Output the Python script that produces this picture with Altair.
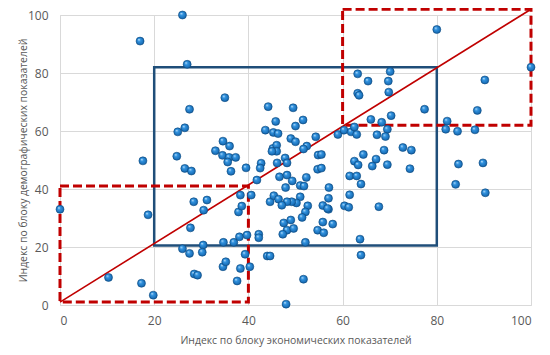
import altair as alt
import pandas as pd

# Data
econ_x = [26, 17, 27, 35, 27.5, 80, 100, 63.2, 70.1, 65.4, 69.7, 90.2, 63.2, 63.5, 69.8, 77.4, 88.6, 70.3, 66, 68.3,
          82.2, 81.9, 84.4, 88.1, 59, 60.3, 61.8, 62.5, 63, 69.5, 67.3, 69.1, 68.8, 72.8, 74.6, 64.4, 67.1, 62.5, 63.3, 66.3,
          69.5, 74.3, 84.6, 89.8, 84, 90.3, 61.5, 63, 63.9, 67.7, 61.5, 60.4, 61.3, 63.7, 63.9, 51.7, 48, 0, 18.7, 10.3,
          17.3, 19.8, 25, 26.5, 24.8, 17.6, 26.5, 27.9, 34.6, 36, 33, 34.5, 35.9, 37.3, 35.6, 36.3, 39.5, 42.7, 42.5, 44.2,
          45.8, 43.6, 45.3, 46.3, 49.5, 50, 51.6, 49, 50, 54.3, 45.2, 46, 46, 45, 52.4, 51.7, 47.8, 46.1, 48.2, 54.8,
          55.5, 54.7, 55.5, 46.6, 48.2, 41.8, 52.3, 47.9, 49.3, 51, 51.8, 57.1, 57, 57, 51, 50.2, 49.2, 52.6, 52.1, 51.4,
          55.8, 56.8, 55.8, 57.9, 54.7, 56, 52.1, 44.6, 45.4, 46.4, 48.2, 47.1, 47.5, 49, 48.2, 49.6, 47.3, 28.4, 31.2, 30.5,
          27.7, 26, 27.5, 30.4, 30.2, 28.5, 29.2, 34.6, 35.2, 37.6, 38.3, 40.3, 39.3, 34.7, 36.9, 38.1, 39.7, 37.9, 38.6, 38.3,
          40.6, 42.2, 42.2, 44, 44.6]
demo_y = [100, 91, 83, 71.5, 67.5, 95, 82, 79.7, 80.5, 77.2, 77.2, 77.6, 73, 72.3, 73.4, 67.5, 67.1, 65.3, 64, 63,
          63.4, 60.6, 59.9, 60.4, 58.8, 60.3, 59.7, 61.4, 58.8, 60.6, 58.7, 58.1, 53.4, 54.3, 53.4, 51.9, 50.3, 49.6, 48.3, 47.9,
          48.4, 47, 48.6, 49, 41.6, 38.7, 44.5, 44.5, 41.7, 33.9, 38, 34.2, 33.7, 22.7, 17.2, 8.9, 0.3, 33, 31.1, 9.5,
          7.5, 3.4, 59.7, 61.1, 51.3, 49.7, 47.1, 46.2, 56.5, 54.8, 53.2, 51.6, 50.9, 50.9, 49.3, 46.1, 47.3, 48.9, 47.2, 68.4,
          63.3, 60.3, 59.5, 59.1, 68, 61.7, 63.8, 57.4, 56.3, 58, 54, 55.1, 53, 53, 54.8, 53.8, 50.7, 49, 49, 51.7,
          51.9, 46.8, 47.2, 44.2, 44.8, 43.1, 44, 40.5, 42.8, 41.2, 41, 40.5, 36.8, 33, 37.3, 35.2, 35.6, 34.2, 32.1, 30.2,
          34.3, 33.3, 28.6, 27.9, 25.8, 24.9, 21.6, 35.6, 37.7, 36.5, 35.6, 34.4, 28.3, 29.3, 25.8, 26.4, 24.4, 35.6, 36.2, 32.7,
          26.6, 19.4, 17.8, 20.7, 18.2, 10.7, 10.3, 13.2, 14.9, 8.3, 12.6, 13.2, 17.5, 21.6, 21.6, 23.5, 24.1, 32.1, 34.1, 37.9,
          37.9, 24.4, 23.2, 16.9, 16.9]

diag_x = [0, 100]
diag_y = [1, 102]

blue_box = {"x": [20], "x2": [80], "y": [20.5], "y2": [82]}
red_boxes = {"x": [0, 60], "x2": [40, 100], "y": [1, 62], "y2": [41, 102]}

x_title = "Индекс по блоку экономических показателей"
y_title = "Индекс по блоку демографических показателей"
ticks = [0, 20, 40, 60, 80, 100]

pts = pd.DataFrame({"x": econ_x, "y": demo_y})
diag = pd.DataFrame({"x": diag_x, "y": diag_y})
bbox = pd.DataFrame(blue_box)
rbox = pd.DataFrame(red_boxes)

FONT = "Open Sans"
GRAY = "#595959"

xscale = alt.Scale(domain=[0, 100], nice=False)
yscale = alt.Scale(domain=[0, 100], nice=False)

xaxis = alt.Axis(values=ticks, title=x_title, domain=False, ticks=False, grid=True,
                 gridColor="#d9d9d9", labelPadding=10, labelFontSize=12, labelColor=GRAY,
                 titleFontSize=10.4, titleColor=GRAY, titleFontWeight="normal",
                 titleY=35, titleBaseline="middle",
                 labelFont=FONT, titleFont=FONT)
yaxis = alt.Axis(values=ticks, title=y_title, domain=False, ticks=False, grid=True,
                 gridColor="#d9d9d9", labelPadding=12, labelFontSize=12, labelColor=GRAY,
                 titleFontSize=10.4, titleColor=GRAY, titleFontWeight="normal",
                 titleX=-37, titleY=145, titleBaseline="middle", titleAlign="center",
                 labelFont=FONT, titleFont=FONT)

base_pts = alt.Chart(pts).mark_point(
    filled=True, size=64, opacity=1, stroke="#0c4a80", strokeWidth=0.6,
    fill=alt.RadialGradient(gradient="radial", x1=0.35, y1=0.3, r1=0.0, x2=0.5, y2=0.5, r2=0.6,
                            stops=[alt.GradientStop(offset=0, color="#d6eeff"),
                                   alt.GradientStop(offset=0.3, color="#3394e0"),
                                   alt.GradientStop(offset=0.75, color="#1a6fb8"),
                                   alt.GradientStop(offset=1, color="#0a4d8c")])
).encode(x=alt.X("x:Q", scale=xscale, axis=xaxis), y=alt.Y("y:Q", scale=yscale, axis=yaxis))

line = alt.Chart(diag).mark_line(color="#c00000", strokeWidth=1.6).encode(
    x=alt.X("x:Q", scale=xscale), y=alt.Y("y:Q", scale=yscale))

blue = alt.Chart(bbox).mark_rect(fillOpacity=0, stroke="#1f4e79", strokeWidth=2.5).encode(
    x="x:Q", x2="x2", y="y:Q", y2="y2")

red = alt.Chart(rbox).mark_rect(fillOpacity=0, stroke="#c00000", strokeWidth=3, strokeDash=[9, 4]).encode(
    x="x:Q", x2="x2", y="y:Q", y2="y2")

chart = alt.layer(blue, red, line, base_pts).properties(
    width=471, height=290, autosize="none",
    padding={"left": 52, "top": 7, "right": 10, "bottom": 45}
).configure_view(stroke=None).configure(background="white")

chart.save("out.html", embed_options={"renderer": "svg", "actions": False})
